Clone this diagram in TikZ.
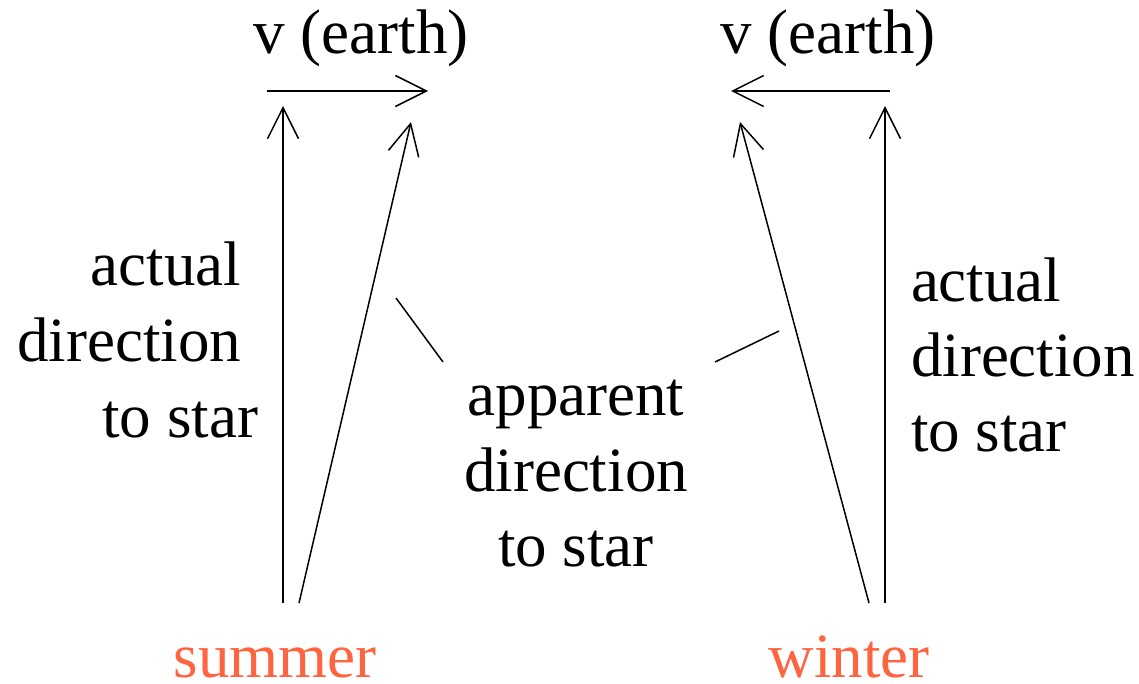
\documentclass[tikz,border=0pt]{standalone}
\usepackage{fontspec}
\setmainfont{Liberation Serif}
\newfontfamily\tms{Liberation Serif}
\usetikzlibrary{arrows.meta}
\definecolor{season}{RGB}{255,100,64}
\tikzset{
  lbl/.style={inner sep=0pt, outer sep=0pt, font=\tms\fontsize{63}{75}\selectfont},
  seasonlbl/.style={lbl, text=season, text depth=0pt},
  ray/.style={line width=1.5pt, -{Straight Barb[length=31pt,width=31pt,line width=1.5pt]}},
  vel/.style={line width=1.5pt, -{Straight Barb[length=31pt,width=31pt,line width=1.5pt]}},
  leader/.style={line width=1.5pt}
}
\begin{document}
\begin{tikzpicture}[x=1pt,y=-1pt]
\useasboundingbox (0,0) rectangle (1139,683);
% summer side
\coordinate (sa0) at (283,603);
\coordinate (sa1) at (283,106);
\coordinate (sp0) at (299,603);
\coordinate (sp1) at (411,122);
\coordinate (sv0) at (267,91);
\coordinate (sv1) at (428,91);
\draw[ray] (sa0) -- (sa1);
\draw[ray] (sp0) -- (sp1);
\draw[vel] (sv0) -- (sv1);
% winter side
\coordinate (wa0) at (885,603);
\coordinate (wa1) at (885,106);
\coordinate (wp0) at (869,603);
\coordinate (wp1) at (740,122);
\coordinate (wv0) at (890,91);
\coordinate (wv1) at (731,91);
\draw[ray] (wa0) -- (wa1);
\draw[ray] (wp0) -- (wp1);
\draw[vel] (wv0) -- (wv1);
% velocity labels
\node[lbl, anchor=base] (vl) at (361,53) {v (earth)};
\node[lbl, anchor=base] (vr) at (828,53) {v (earth)};
% left actual
\node[lbl, anchor=base east] (la1) at (241,285) {actual};
\node[lbl, anchor=base east] (la2) at (241,361) {direction};
\node[lbl, anchor=base east] (la3) at (258,437) {to star};
% right actual
\node[lbl, anchor=base west] (ra1) at (911,301) {actual};
\node[lbl, anchor=base west] (ra2) at (911,376) {direction};
\node[lbl, anchor=base west] (ra3) at (911,451) {to star};
% apparent
\node[lbl, anchor=base] (ap1) at (576,415) {apparent};
\node[lbl, anchor=base] (ap2) at (576,491) {direction};
\node[lbl, anchor=base] (ap3) at (576,566) {to star};
% leaders
\coordinate (l1a) at (396,298);
\coordinate (l1b) at (443,362);
\coordinate (l2a) at (715,362);
\coordinate (l2b) at (779,331);
\draw[leader] (l1a) -- (l1b);
\draw[leader] (l2a) -- (l2b);
% seasons
\node[seasonlbl, anchor=base] (summer) at (275,677) {summer};
\node[seasonlbl, anchor=base] (winter) at (849,677) {winter};
\end{tikzpicture}
\end{document}
